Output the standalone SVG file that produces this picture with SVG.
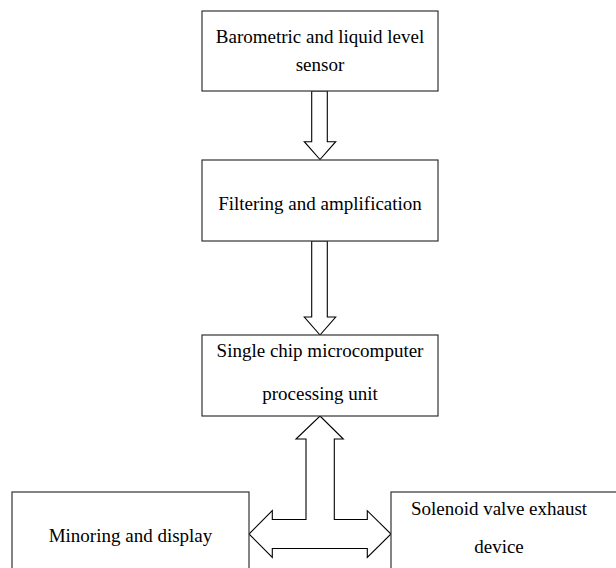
<svg xmlns="http://www.w3.org/2000/svg" width="616" height="568" viewBox="0 0 616 568">
<style>
.box{fill:#fff;stroke:#333;stroke-width:1.2}
.arrow{fill:#fff;stroke:#000;stroke-width:1.1;stroke-linejoin:miter}
text{font-family:"Liberation Serif","Times New Roman",serif;font-size:19px;fill:#000;text-anchor:middle}
</style>
<rect width="616" height="568" fill="#fff"/>
<g id="connectors">
<polygon class="arrow" points="311.7,91 327.3,91 327.3,141.7 335.7,141.7 320,159.5 304.3,141.7 311.7,141.7"/>
<polygon class="arrow" points="311.7,241 327.3,241 327.3,317 335.7,317 320,335 304.3,317 311.7,317"/>
<polygon class="arrow" points="320,416 343.3,439 334.3,439 334.3,519.5 367.3,519.5 367.3,510.7 391,534 367.3,557.5 367.3,548.5 272.3,548.5 272.3,557.5 249,534 272.3,510.7 272.3,519.5 306,519.5 306,439 296,439"/>
</g>
<g id="sensor">
<rect class="box" x="202" y="11" width="236" height="80"/>
<text x="320" y="43">Barometric and liquid level</text>
<text x="320" y="71">sensor</text>
</g>
<g id="filter">
<rect class="box" x="202" y="160" width="236" height="81"/>
<text x="320" y="210">Filtering and amplification</text>
</g>
<g id="mcu">
<rect class="box" x="202" y="335" width="236" height="81"/>
<text x="320" y="357">Single chip microcomputer</text>
<text x="320" y="400">processing unit</text>
</g>
<g id="display">
<rect class="box" x="12" y="492" width="237" height="90"/>
<text x="130.5" y="542">Minoring and display</text>
</g>
<g id="solenoid">
<rect class="box" x="391" y="492" width="240" height="90"/>
<text x="499" y="515">Solenoid valve exhaust</text>
<text x="499" y="553">device</text>
</g>
</svg>
